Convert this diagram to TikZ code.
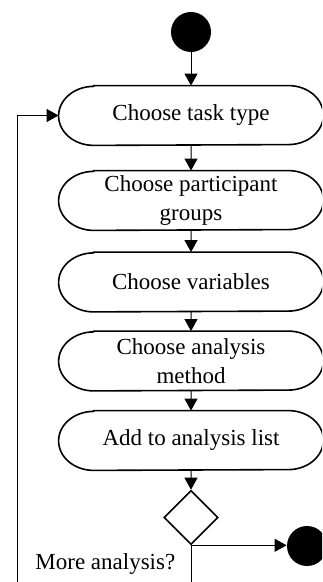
\documentclass[tikz,border=0pt]{standalone}
\usepackage{fontspec}
\setmainfont{Liberation Serif}
\usetikzlibrary{shapes.geometric,arrows.meta}

\tikzset{
 activity/.style={rectangle,minimum width=132pt,minimum height=29.5pt,inner sep=1pt,align=center,
  font=\fontsize{11.5}{14.5}\selectfont},
 outline/.style={line width=0.8pt},
 decision/.style={diamond,draw,line width=0.8pt,minimum width=27pt,minimum height=27pt,inner sep=0pt},
 dot/.style={circle,fill=black,minimum size=20pt,inner sep=0pt},
 flow/.style={line width=0.5pt,-{Triangle[length=6pt,width=6.5pt]}}
}

\begin{document}
\begin{tikzpicture}[x=0.5pt,y=0.5pt, edge from parent/.style={draw,flow}]
\clip (0,0) rectangle (322,582);
\node[dot] (start) at (191,550) {} [level distance=41.75pt]
child {node[activity] (task) {Choose task type} [level distance=42.5pt]
child {node[activity] (groups) {Choose participant\\groups} [level distance=40.75pt]
child {node[activity] (vars) {Choose variables} [level distance=39.5pt]
child {node[activity] (method) {Choose analysis\\method} [level distance=39.75pt]
child {node[activity] (list) {Add to analysis list} [level distance=38.5pt]
child {node[decision] (dec) {}}
}
}
}
}
};
\foreach \n in {task,groups,vars,method,list}
 \draw[outline] ([xshift=17.5pt]\n.north west) -- ([xshift=-17.5pt]\n.north east)
  arc[start angle=90,end angle=-90,x radius=17.5pt,y radius=14.75pt]
  -- ([xshift=17.5pt]\n.south west)
  arc[start angle=270,end angle=90,x radius=17.5pt,y radius=14.75pt] -- cycle;
\node[dot] (stop) at (307,36) {};
\draw[flow] (dec.south) -- (dec.south -| stop.west);
\coordinate (back) at (17,-20);
\draw[flow] (dec.south) |- (back) |- (task.west);
\node[anchor=base west,inner sep=0pt,font=\fontsize{11.5}{14.5}\selectfont] (ask) at (35,12) {More analysis?};
\end{tikzpicture}
\end{document}
